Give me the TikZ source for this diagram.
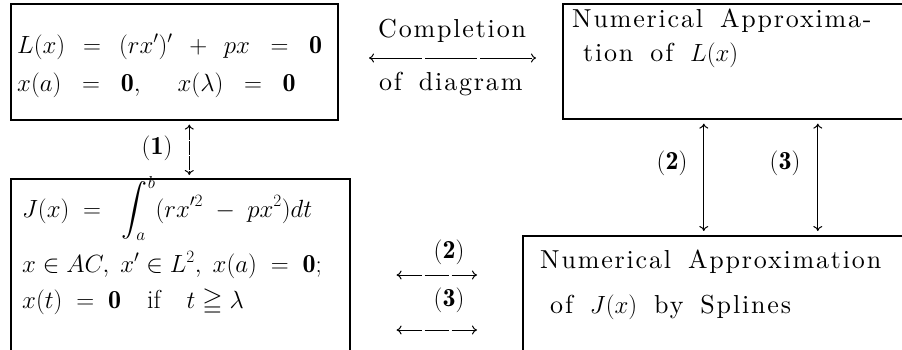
\documentclass[tikz,border=0pt]{standalone}
\usepackage{amsmath,amssymb}
\usepackage{fontspec}
\usepackage{tikz}
\usetikzlibrary{arrows.meta}

\newfontfamily\spacedrm{lmroman10-regular.otf}[LetterSpace=7]
\newcommand\spacedtext{\spacedrm\spaceskip 17pt plus 2pt\relax}

\tikzset{
  box/.style={draw, line width=1.6pt, rectangle, anchor=north west, inner sep=0pt},
  txt/.style={anchor=base west, inner sep=0pt, font=\fontsize{26}{30}\selectfont\spacedtext},
  mth/.style={anchor=base west, inner sep=0pt, font=\fontsize{26}{30}\selectfont},
  lab/.style={inner sep=0pt, font=\fontsize{26}{30}\selectfont},
  darrow/.style={{To[length=5pt,width=9pt]}-{To[length=5pt,width=9pt]}, line width=1pt},
}

\begin{document}
\begin{tikzpicture}[x=1pt, y=-1pt]
  \useasboundingbox (0,0) rectangle (902,349);
  % the four boxes
  \node[box, minimum width=327pt, minimum height=116pt] (lbox) at (10,3) {};
  \node[box, minimum width=358pt, minimum height=115pt] (nlbox) at (562,3) {};
  \node[box, minimum width=339pt, minimum height=192pt] (jbox) at (10,178) {};
  \node[box, minimum width=398pt, minimum height=135pt] (nsbox) at (522,235) {};

  % texts in the boxes
  \node[mth] (l1) at (17,53) {$L(x) \;\,=\;\, (rx')' \;\,+\;\, px \;\;=\;\; \mathbf{0}$};
  \node[mth] (l2) at (17,91) {$x(a) \;\;=\;\; \mathbf{0}, \quad\; x(\lambda) \;\;=\;\; \mathbf{0}$};
  \node[txt] (n1) at (572,27) {Numerical Approxima-};
  \node[txt] (n2) at (583,61) {tion of $L(x)$};
  \node[mth] (j1) at (22,217) {$J(x) \;=\;\; \displaystyle\int_a^b (rx'^2 \;-\; px^2)dt$};
  \node[mth] (j2) at (22,272) {$x \in AC,\; x' \in L^2,\; x(a) \;=\; \mathbf{0};$};
  \node[mth] (j3) at (22,308) {$x(t) \;=\; \mathbf{0} \quad \text{if} \quad t \geqq \lambda$};
  \node[txt] (s1) at (540,268) {Numerical Approximation};
  \node[txt] (s2) at (550,313) {of $J(x)$ by Splines};

  % completion of diagram
  \node[txt] (comp) at (378,37) {Completion};
  \node[txt] (diag) at (379,90) {of diagram};
  \coordinate (cl) at (369,58);
  \coordinate (cr) at (536,58);
  \draw[darrow, dash pattern=on 52pt off 3pt] (cl) -- (cr);

  % (1)
  \draw[darrow, dash pattern=on 14pt off 1.2pt, shorten <=4pt, shorten >=3pt]
    ([xshift=15pt]lbox.south) -- ([xshift=15pt]lbox.south |- jbox.north);
  \node[lab] (one) at (157,148) {$(\mathbf{1})$};

  % (2) and (3), vertical
  \draw[darrow, shorten <=4pt, shorten >=4pt]
    ([xshift=-38pt]nlbox.south) -- ([xshift=-38pt]nlbox.south |- nsbox.north);
  \draw[darrow, shorten <=4pt, shorten >=4pt]
    ([xshift=76pt]nlbox.south) -- ([xshift=76pt]nlbox.south |- nsbox.north);
  \node[lab] (two) at (672,163) {$(\mathbf{2})$};
  \node[lab] (three) at (785,163) {$(\mathbf{3})$};

  % (2) and (3), horizontal
  \draw[darrow, dash pattern=on 24pt off 3pt, shorten <=46pt, shorten >=45pt]
    (jbox.east |- 0,275) -- (nsbox.west |- 0,275);
  \draw[darrow, dash pattern=on 24pt off 3pt, shorten <=46pt, shorten >=45pt]
    (jbox.east |- 0,330) -- (nsbox.west |- 0,330);
  \node[lab] (twoh) at (449,252) {$(\mathbf{2})$};
  \node[lab] (threeh) at (449,300) {$(\mathbf{3})$};
\end{tikzpicture}
\end{document}
